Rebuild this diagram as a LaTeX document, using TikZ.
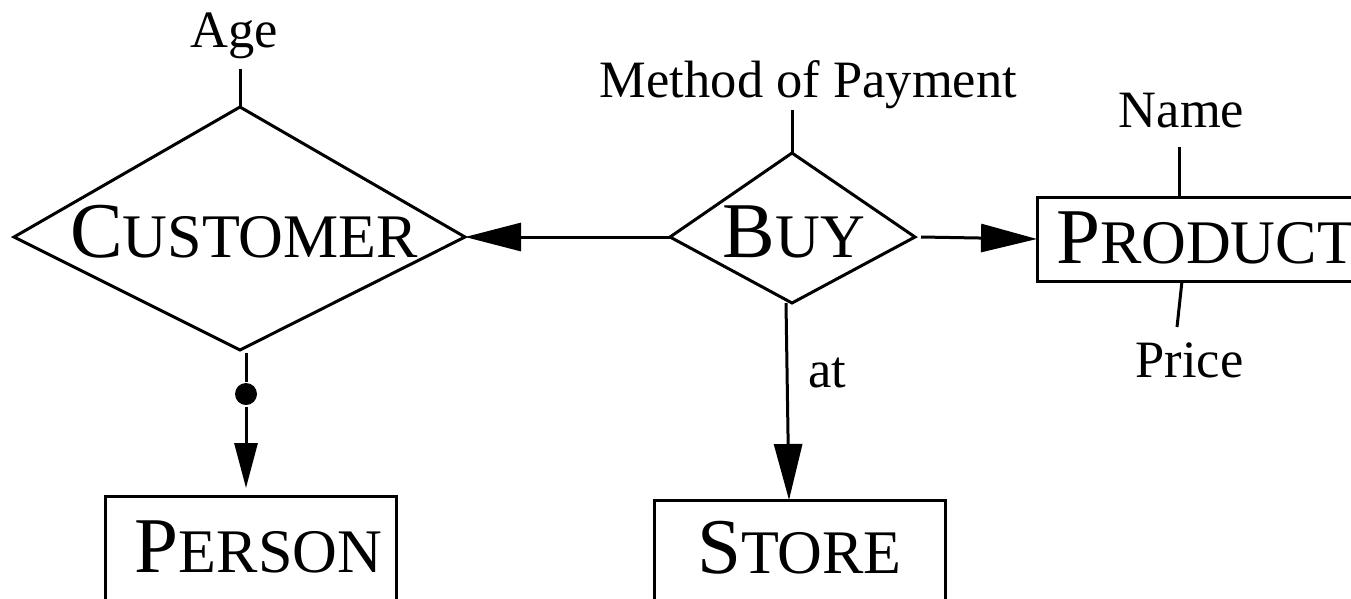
\documentclass[tikz,border=0pt]{standalone}
\usepackage{fontspec}
\setmainfont{Liberation Serif}
\usetikzlibrary{arrows.meta}
% name set with a large initial and smaller capitals
\newcommand\capsname[2]{{\fontsize{79pt}{79pt}\selectfont #1}{\fontsize{62pt}{62pt}\selectfont #2}}
\begin{document}
\begin{tikzpicture}[x=1pt,y=-1pt,
  line width=3pt,
  attr/.style={font=\fontsize{52.5pt}{52.5pt}\selectfont, inner sep=0pt, anchor=base},
  title/.style={inner sep=0pt, anchor=base},
  entity/.style={draw, line width=3pt, anchor=north, inner xsep=0pt, outer sep=0pt, text height=54pt},
  bigtip/.style={-{Triangle[length=56pt,width=28pt]}},
  smalltip/.style={-{Triangle[length=45pt,width=23pt]}},
  dotmark/.style={circle, fill, inner sep=0pt, minimum size=22pt}
]
\useasboundingbox (0,0) rectangle (1351,598);
\fill[white] (0,0) rectangle (1351,598);
\clip (0,0) rectangle (1351,598);

% relationship CUSTOMER
\coordinate (custN) at (240,107);
\coordinate (custE) at (465,237);
\coordinate (custS) at (240,350);
\coordinate (custW) at (14,237);
\draw[line join=miter] (custN) -- (custE) -- (custS) -- (custW) -- cycle;
\node[title] (custtext) at (244,257) {\capsname{C}{USTOMER}};

% relationship BUY
\coordinate (buyN) at (792,153);
\coordinate (buyE) at (915,237);
\coordinate (buyS) at (792,303);
\coordinate (buyW) at (670,237);
\draw[line join=miter] (buyN) -- (buyE) -- (buyS) -- (buyW) -- cycle;
\node[title] (buytext) at (794,257) {\capsname{B}{UY}};

% entities
\node[entity, minimum width=337pt, inner ysep=12pt, text depth=6pt] (product) at (1205.5,197) {\capsname{P}{RODUCT}};
\node[entity, minimum width=291pt, inner ysep=22pt, text depth=40pt] (person) at (250.5,496) {\hspace*{16pt}\capsname{P}{ERSON}};
\node[entity, minimum width=291pt, inner ysep=19pt, text depth=40pt] (store) at (799.5,500) {\capsname{S}{TORE}};

% attributes
\node[attr] (age) at (234,47) {Age};
\coordinate (ageend) at (240,69);
\draw (custN) -- (ageend);

\node[attr] (method) at (808.5,97) {Method of Payment};
\coordinate (methodend) at (792,110);
\draw (buyN) -- (methodend);

\node[attr] (name) at (1181.5,127) {Name};
\coordinate (nameend) at (1179,147);
\draw (nameend) -- (nameend |- product.north);

\node[attr] (price) at (1189.5,377) {Price};
\coordinate (priceend) at (1177,327);
\draw ([xshift=-23.5pt]product.south) -- (priceend);

% links
\draw[bigtip] (buyW) -- (custE);
\draw[bigtip] ([xshift=6pt]buyE) -- (product.west);
\draw[bigtip] ([xshift=-6pt]buyS) -- ([xshift=-10.5pt]store.north);
\node[attr, anchor=base west] (at) at (807,387) {at};

\node[dotmark] (dot) at (246,394) {};
\draw ([xshift=6pt,yshift=-3pt]custS) -- (dot);
\draw[smalltip] (dot) -- ([xshift=-4.5pt,yshift=8pt]person.north);
\end{tikzpicture}
\end{document}
